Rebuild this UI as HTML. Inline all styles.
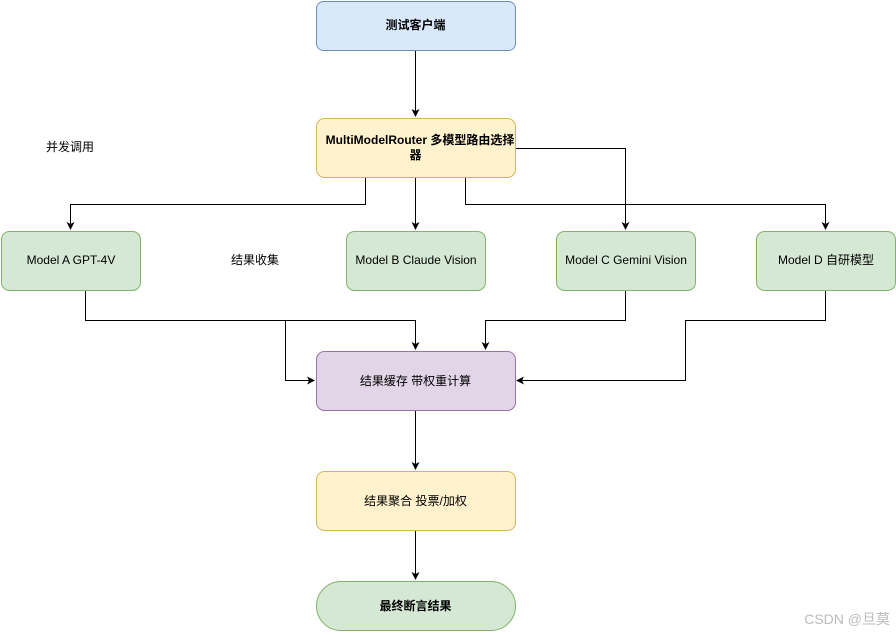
<!DOCTYPE html>
<html><head><meta charset="utf-8"><style>
body{margin:0;background:#fff;}
svg text{font-family:"Liberation Sans","Noto Sans CJK SC",sans-serif;font-size:12px;fill:#000;}
</style></head><body>
<svg width="896" height="631" xmlns="http://www.w3.org/2000/svg">
<defs><marker id="a" markerWidth="8" markerHeight="8" refX="7" refY="4" orient="auto" markerUnits="userSpaceOnUse"><path d="M0,0 L8,4 L0,8 L2,4 Z" fill="#000"/></marker></defs>
<g fill="none" stroke="#000" stroke-width="1">
<path d="M415.5,50 V116" marker-end="url(#a)"/>
<path d="M365.5,177 V204.5 H70.5 V229" marker-end="url(#a)"/>
<path d="M415.5,177 V229" marker-end="url(#a)"/>
<path d="M515,148.5 H625.5 V229" marker-end="url(#a)"/>
<path d="M465.5,177 V204.5 H825.5 V229" marker-end="url(#a)"/>
<path d="M85.5,290 V320.5 H415.5 V349" marker-end="url(#a)"/>
<path d="M285.5,320.5 V380.5 H314" marker-end="url(#a)"/>
<path d="M625.5,290 V320.5 H485.5 V349" marker-end="url(#a)"/>
<path d="M825.5,290 V320.5 H685.5 V380.5 H517" marker-end="url(#a)"/>
<path d="M415.5,410 V469" marker-end="url(#a)"/>
<path d="M415.5,530 V579" marker-end="url(#a)"/>
</g>
<rect x="316.5" y="1.5" width="199" height="49" rx="7" fill="#dae8fc" stroke="#6c8ebf"/>
<text x="415.5" y="29" text-anchor="middle" font-weight="bold">测试客户端</text>
<rect x="316.5" y="118.5" width="199" height="59" rx="8" fill="#fff2cc" stroke="#d6b656"/>
<text x="420" y="144" text-anchor="middle" font-weight="bold">MultiModelRouter 多模型路由选择</text>
<text x="415.5" y="159" text-anchor="middle" font-weight="bold">器</text>
<rect x="1.5" y="231.5" width="139" height="59" rx="8" fill="#d5e8d4" stroke="#82b366"/>
<text x="71" y="264" text-anchor="middle">Model A GPT-4V</text>
<rect x="346.5" y="231.5" width="139" height="59" rx="8" fill="#d5e8d4" stroke="#82b366"/>
<text x="416" y="264" text-anchor="middle">Model B Claude Vision</text>
<rect x="556.5" y="231.5" width="139" height="59" rx="8" fill="#d5e8d4" stroke="#82b366"/>
<text x="626" y="264" text-anchor="middle">Model C Gemini Vision</text>
<rect x="756.5" y="231.5" width="139" height="59" rx="8" fill="#d5e8d4" stroke="#82b366"/>
<text x="826" y="264" text-anchor="middle">Model D 自研模型</text>
<rect x="316.5" y="351.5" width="199" height="59" rx="8" fill="#e1d5e7" stroke="#9673a6"/>
<text x="415.5" y="385" text-anchor="middle">结果缓存 带权重计算</text>
<rect x="316.5" y="471.5" width="199" height="59" rx="8" fill="#fff2cc" stroke="#d6b656"/>
<text x="415.5" y="505" text-anchor="middle">结果聚合 投票/加权</text>
<rect x="316.5" y="581.5" width="199" height="49" rx="24.5" fill="#d5e8d4" stroke="#82b366"/>
<text x="415.5" y="610" text-anchor="middle" font-weight="bold">最终断言结果</text>
<text x="70" y="151" text-anchor="middle">并发调用</text>
<text x="255" y="264" text-anchor="middle">结果收集</text>
<text x="890" y="624" text-anchor="end" style="font-size:14px;fill:#bbb">CSDN @旦莫</text>
</svg>
</body></html>
